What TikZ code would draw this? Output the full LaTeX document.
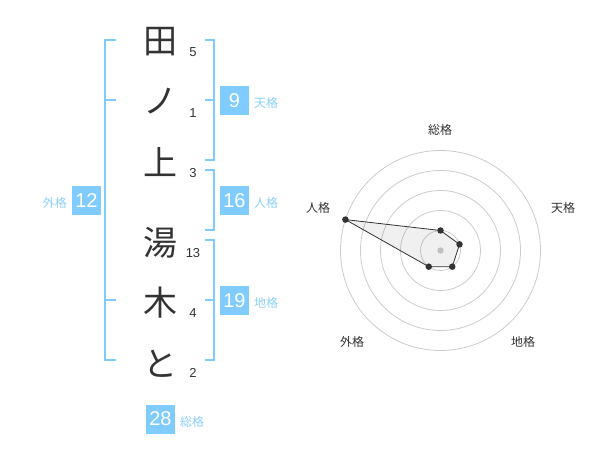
\documentclass[tikz,border=0pt]{standalone}
\usepackage{fontspec}
\newfontfamily\cjk{Noto Sans CJK JP}
\setmainfont{Liberation Sans}
\definecolor{skyb}{RGB}{128,204,255}
\definecolor{skyt}{RGB}{140,208,250}
\definecolor{ink}{RGB}{51,51,51}
\definecolor{ring}{RGB}{204,204,204}
\tikzset{
  kanji/.style={font=\cjk\fontsize{34}{34}\selectfont, text=ink, inner sep=0pt},
  strokes/.style={font=\fontsize{13}{13}\selectfont, text=ink, inner sep=0pt},
  numbox/.style={fill=skyb, text=white, minimum width=29pt, minimum height=29pt, inner sep=0pt, font=\fontsize{20}{20}\selectfont},
  kaku/.style={font=\cjk\fontsize{12}{12}\selectfont, text=skyt, inner sep=0pt},
  brk/.style={draw=skyb, line width=2pt},
  rlabel/.style={font=\cjk\fontsize{12}{12}\selectfont, text=ink, inner sep=0pt},
  ringc/.style={draw=ring, line width=0.8pt},
  dot/.style={circle, fill=ink, inner sep=0pt, minimum size=6.5pt}
}
\begin{document}
\begin{tikzpicture}[x=1pt,y=-1pt]
\useasboundingbox (0,0) rectangle (600,470);
% characters
\node[kanji] (c1) at (160,42) {田};
\node[kanji] (c2) at (160,101) {ノ};
\node[kanji] (c3) at (160,162) {上};
\node[kanji] (c4) at (160,243) {湯};
\node[kanji] (c5) at (160,303) {木};
\node[kanji] (c6) at (160,364) {と};
% stroke counts
\node[strokes] (s1) at (193,52) {5};
\node[strokes] (s2) at (193,113) {1};
\node[strokes] (s3) at (193,173) {3};
\node[strokes] (s4) at (193,253) {13};
\node[strokes] (s5) at (193,313) {4};
\node[strokes] (s6) at (193,373) {2};
% outer bracket
\coordinate (g1) at (116,40); \coordinate (g2) at (105,40);
\coordinate (g3) at (105,360); \coordinate (g4) at (116,360);
\draw[brk] (g1) -- (g2) -- (g3) -- (g4);
\coordinate (g5) at (105,100); \coordinate (g6) at (116,100);
\coordinate (g7) at (105,300); \coordinate (g8) at (116,300);
\draw[brk] (g5) -- (g6);
\draw[brk] (g7) -- (g8);
% ten bracket
\coordinate (t1) at (205,40); \coordinate (t2) at (214,40);
\coordinate (t3) at (214,160); \coordinate (t4) at (205,160);
\coordinate (t5) at (214,100); \coordinate (t6) at (205,100);
\draw[brk] (t1) -- (t2) -- (t3) -- (t4);
\draw[brk] (t5) -- (t6);
% jin bracket
\coordinate (j1) at (205,170); \coordinate (j2) at (214,170);
\coordinate (j3) at (214,230); \coordinate (j4) at (205,230);
\draw[brk] (j1) -- (j2) -- (j3) -- (j4);
% chi bracket
\coordinate (h1) at (205,240); \coordinate (h2) at (214,240);
\coordinate (h3) at (214,360); \coordinate (h4) at (205,360);
\coordinate (h5) at (214,300); \coordinate (h6) at (205,300);
\draw[brk] (h1) -- (h2) -- (h3) -- (h4);
\draw[brk] (h5) -- (h6);
% boxes
\node[numbox] (b9) at (234.5,100.5) {9};
\node[kaku, anchor=west] (k9) at (254,103) {天格};
\node[numbox] (b16) at (234.5,200.5) {16};
\node[kaku, anchor=west] (k16) at (254,203) {人格};
\node[numbox] (b19) at (234.5,300.5) {19};
\node[kaku, anchor=west] (k19) at (254,303) {地格};
\node[numbox] (b12) at (86.5,200.5) {12};
\node[kaku, anchor=east] (k12) at (67,203) {外格};
\node[numbox] (b28) at (160.5,419) {28};
\node[kaku, anchor=west] (k28) at (180,422) {総格};
% radar
\begin{scope}[shift={(440.5,250.5)}, yscale=-1]
  \foreach \r in {20,40,60,80,100} \draw[ringc] (0,0) circle[radius=\r];
  \fill[ring] (0,0) circle[radius=3.2];
  \coordinate (p1) at (90:20);
  \coordinate (p2) at (18:20);
  \coordinate (p3) at (-54:20);
  \coordinate (p4) at (-126:20);
  \coordinate (p5) at (162:100);
  \filldraw[fill=black, fill opacity=0.06, draw=ink, line width=0.8pt] (p1) -- (p2) -- (p3) -- (p4) -- (p5) -- cycle;
  \foreach \p in {p1,p2,p3,p4,p5} \node[dot] at (\p) {};
\end{scope}
\node[rlabel] (r1) at (440,130) {総格};
\node[rlabel] (r2) at (563,208) {天格};
\node[rlabel] (r3) at (523,342) {地格};
\node[rlabel] (r4) at (352,342) {外格};
\node[rlabel] (r5) at (318,208) {人格};
\end{tikzpicture}
\end{document}
